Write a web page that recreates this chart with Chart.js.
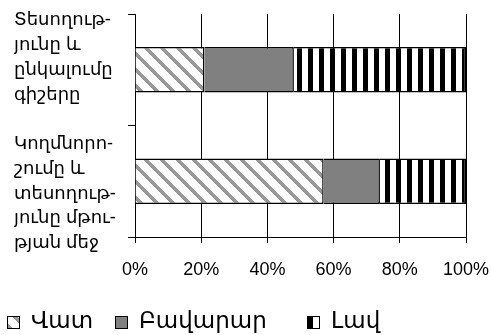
<!DOCTYPE html>
<html>
<head>
<meta charset="utf-8">
<script src="https://cdn.jsdelivr.net/npm/chart.js@4.4.1/dist/chart.umd.min.js"></script>
<style>
html, body { margin: 0; padding: 0; background: #fff; }
</style>
</head>
<body>
<canvas id="myChart" width="491" height="335"></canvas>
<script>
// categories (line-broken the same way as the original)
var categories = [
    ['Տեսողութ-', 'յունը և', 'ընկալումը', 'գիշերը'],
    ['Կողմնորո-', 'շումը և', 'տեսողութ-', 'յունը մթու-', 'թյան մեջ']
];
var seriesNames = ['Վատ', 'Բավարար', 'Լավ'];
var vat = [21, 57];
var bavarar = [27, 17];
var lav = [52, 26];
var xTicks = [0, 20, 40, 60, 80, 100];

var ctx = document.getElementById('myChart').getContext('2d');

// diagonal gray stripes on white
function hatch() {
    var c = document.createElement('canvas');
    c.width = 16; c.height = 16;
    var g = c.getContext('2d');
    g.fillStyle = '#fff';
    g.fillRect(0, 0, 16, 16);
    g.fillStyle = '#999';
    for (var y = 0; y < 16; y++) {
        for (var k = 0; k < 5; k++) {
            g.fillRect((y + k) % 16, y, 1, 1);
        }
    }
    return ctx.createPattern(c, 'repeat');
}

// black vertical stripes
function stripes() {
    var c = document.createElement('canvas');
    c.width = 11; c.height = 4;
    var g = c.getContext('2d');
    g.fillStyle = '#fff';
    g.fillRect(0, 0, 11, 4);
    g.fillStyle = '#000';
    g.fillRect(0, 0, 5, 4);
    return ctx.createPattern(c, 'repeat');
}

var font = "'Liberation Sans', 'Noto Sans', 'DejaVu Sans', sans-serif";

// legend drawn by hand, Excel style (left aligned, uneven gaps)
var legendX = [7, 115, 307];
var legendPlugin = {
    id: 'xlLegend',
    afterDraw: function(chart) {
        var c = chart.ctx;
        var yc = 322;
        c.save();
        c.font = '23px ' + font;
        c.textBaseline = 'middle';
        c.fillStyle = '#000';
        chart.data.datasets.forEach(function(ds, i) {
            var x = legendX[i];
            c.fillStyle = ds.backgroundColor;
            c.fillRect(x, yc - 6, 12, 12);
            c.strokeStyle = '#000';
            c.lineWidth = 1;
            c.strokeRect(x + 0.5, yc - 5.5, 12, 12);
            c.fillStyle = '#000';
            c.fillText(ds.label, x + 24, yc);
        });
        c.restore();
    }
};

var myChart = new Chart(ctx, {
    type: 'bar',
    data: {
        labels: categories,
        datasets: [{
            label: seriesNames[0],
            data: vat,
            backgroundColor: hatch(),
            borderColor: '#000',
            borderWidth: 1.5
        }, {
            label: seriesNames[1],
            data: bavarar,
            backgroundColor: '#808080',
            borderColor: '#000',
            borderWidth: 1.5
        }, {
            label: seriesNames[2],
            data: lav,
            backgroundColor: stripes(),
            borderColor: '#000',
            borderWidth: 1.5
        }]
    },
    options: {
        responsive: false,
        animation: false,
        indexAxis: 'y',
        barPercentage: 0.41,
        categoryPercentage: 1,
        layout: { padding: { top: 14, right: 0, left: 14, bottom: 53 } },
        scales: {
            x: {
                stacked: true,
                min: xTicks[0],
                max: xTicks[xTicks.length - 1],
                afterBuildTicks: function(scale) {
                    scale.ticks = xTicks.map(function(v) { return { value: v }; });
                },
                afterFit: function(scale) {
                    scale.height = 45;
                    scale.paddingLeft = 0;
                    scale.paddingRight = 25;
                },
                ticks: {
                    color: '#000',
                    font: { family: font, size: 18 },
                    padding: 16,
                    maxRotation: 0,
                    callback: function(v) { return v + '%'; }
                },
                grid: { color: '#000', lineWidth: 1, tickLength: 6 },
                border: { color: '#000', width: 1 }
            },
            y: {
                stacked: true,
                offset: true,
                afterFit: function(scale) {
                    scale.width = 121;
                    scale.paddingTop = 0;
                    scale.paddingBottom = 0;
                },
                ticks: {
                    color: '#000',
                    autoSkip: false,
                    crossAlign: 'far',
                    font: { family: font, size: 18, lineHeight: 1.38 },
                    callback: function(v, i) {
                        var lines = categories[i];
                        return i === 0 ? lines.concat(['']) : [''].concat(lines);
                    }
                },
                grid: { drawOnChartArea: false, offset: true, color: '#000', tickLength: 7 },
                border: { color: '#000', width: 1 }
            }
        },
        plugins: {
            tooltip: { enabled: false },
            legend: { display: false }
        }
    },
    plugins: [legendPlugin]
});
</script>
</body>
</html>
